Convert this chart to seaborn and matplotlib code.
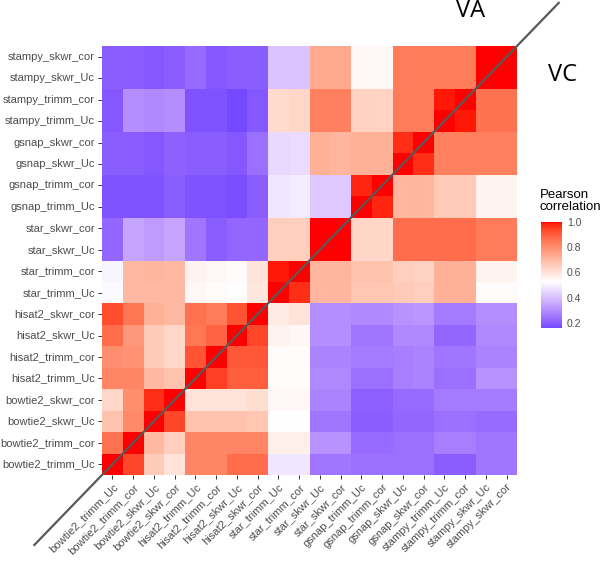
import numpy as np
import pandas as pd
import seaborn as sns
import matplotlib.pyplot as plt
from matplotlib.colors import ListedColormap

# sample names, bottom-to-top on y and left-to-right on x
samples = ["bowtie2_trimm_Uc", "bowtie2_trimm_cor", "bowtie2_skwr_Uc", "bowtie2_skwr_cor",
           "hisat2_trimm_Uc", "hisat2_trimm_cor", "hisat2_skwr_Uc", "hisat2_skwr_cor",
           "star_trimm_Uc", "star_trimm_cor", "star_skwr_Uc", "star_skwr_cor",
           "gsnap_trimm_Uc", "gsnap_trimm_cor", "gsnap_skwr_Uc", "gsnap_skwr_cor",
           "stampy_trimm_Uc", "stampy_trimm_cor", "stampy_skwr_Uc", "stampy_skwr_cor"]

# pearson correlation, rows listed top (stampy_skwr_cor) to bottom (bowtie2_trimm_Uc)
corr_rows = [
    [0.20, 0.20, 0.19, 0.20, 0.23, 0.19, 0.20, 0.20, 0.41, 0.41, 0.74, 0.74, 0.55, 0.55, 0.84, 0.84, 0.84, 0.84, 1.00, 1.00],
    [0.20, 0.20, 0.19, 0.20, 0.23, 0.19, 0.20, 0.20, 0.41, 0.41, 0.74, 0.74, 0.55, 0.55, 0.84, 0.84, 0.84, 0.84, 1.00, 1.00],
    [0.19, 0.30, 0.29, 0.30, 0.18, 0.18, 0.16, 0.19, 0.62, 0.63, 0.83, 0.83, 0.64, 0.64, 0.84, 0.84, 0.99, 1.00, 0.86, 0.86],
    [0.19, 0.30, 0.29, 0.30, 0.18, 0.18, 0.16, 0.19, 0.62, 0.63, 0.83, 0.83, 0.64, 0.64, 0.84, 0.84, 1.00, 0.99, 0.86, 0.86],
    [0.20, 0.20, 0.19, 0.21, 0.20, 0.20, 0.19, 0.24, 0.45, 0.46, 0.72, 0.71, 0.72, 0.72, 0.97, 1.00, 0.83, 0.83, 0.83, 0.83],
    [0.20, 0.20, 0.19, 0.21, 0.20, 0.20, 0.19, 0.24, 0.45, 0.46, 0.72, 0.71, 0.72, 0.72, 1.00, 0.97, 0.83, 0.83, 0.83, 0.83],
    [0.18, 0.18, 0.18, 0.20, 0.18, 0.18, 0.17, 0.20, 0.48, 0.49, 0.42, 0.42, 0.98, 1.00, 0.71, 0.71, 0.66, 0.66, 0.56, 0.56],
    [0.18, 0.18, 0.18, 0.20, 0.18, 0.18, 0.17, 0.20, 0.48, 0.49, 0.42, 0.42, 1.00, 0.98, 0.71, 0.71, 0.66, 0.66, 0.56, 0.56],
    [0.22, 0.35, 0.33, 0.35, 0.25, 0.20, 0.22, 0.22, 0.65, 0.65, 1.00, 1.00, 0.63, 0.63, 0.87, 0.87, 0.87, 0.87, 0.84, 0.84],
    [0.22, 0.35, 0.33, 0.35, 0.25, 0.20, 0.22, 0.22, 0.65, 0.65, 1.00, 1.00, 0.63, 0.63, 0.87, 0.87, 0.87, 0.87, 0.84, 0.84],
    [0.51, 0.70, 0.71, 0.70, 0.56, 0.55, 0.54, 0.60, 0.99, 1.00, 0.71, 0.71, 0.68, 0.68, 0.65, 0.64, 0.72, 0.72, 0.56, 0.56],
    [0.52, 0.70, 0.70, 0.70, 0.55, 0.54, 0.53, 0.59, 1.00, 0.97, 0.71, 0.71, 0.67, 0.67, 0.66, 0.65, 0.72, 0.72, 0.54, 0.54],
    [0.93, 0.85, 0.72, 0.70, 0.86, 0.84, 0.92, 1.00, 0.58, 0.60, 0.30, 0.30, 0.29, 0.29, 0.31, 0.32, 0.26, 0.26, 0.30, 0.30],
    [0.87, 0.78, 0.66, 0.63, 0.85, 0.89, 1.00, 0.94, 0.56, 0.55, 0.30, 0.30, 0.25, 0.25, 0.29, 0.29, 0.22, 0.22, 0.29, 0.29],
    [0.80, 0.79, 0.66, 0.63, 0.92, 1.00, 0.91, 0.91, 0.54, 0.54, 0.28, 0.28, 0.26, 0.26, 0.27, 0.28, 0.25, 0.25, 0.28, 0.28],
    [0.82, 0.82, 0.70, 0.68, 1.00, 0.95, 0.90, 0.90, 0.54, 0.54, 0.29, 0.29, 0.24, 0.24, 0.27, 0.28, 0.24, 0.24, 0.31, 0.31],
    [0.63, 0.80, 0.97, 1.00, 0.60, 0.60, 0.60, 0.61, 0.55, 0.55, 0.28, 0.28, 0.21, 0.21, 0.23, 0.23, 0.26, 0.26, 0.26, 0.26],
    [0.68, 0.81, 1.00, 0.94, 0.68, 0.68, 0.68, 0.67, 0.53, 0.53, 0.25, 0.25, 0.20, 0.20, 0.22, 0.22, 0.24, 0.24, 0.23, 0.23],
    [0.86, 1.00, 0.70, 0.65, 0.82, 0.82, 0.82, 0.82, 0.57, 0.57, 0.31, 0.31, 0.23, 0.23, 0.24, 0.24, 0.27, 0.27, 0.25, 0.25],
    [1.00, 0.94, 0.66, 0.60, 0.82, 0.82, 0.87, 0.87, 0.48, 0.48, 0.25, 0.25, 0.24, 0.24, 0.24, 0.24, 0.20, 0.20, 0.25, 0.25],
]
cbar_ticks = [0.2, 0.4, 0.6, 0.8, 1.0]


# --- ggplot-like gradient2 (blue / white / red, interpolated in Lab) ---
WHITE_XYZ = np.array([0.95047, 1.0, 1.08883])
M_RGB2XYZ = np.array([[0.4124, 0.3576, 0.1805],
                      [0.2126, 0.7152, 0.0722],
                      [0.0193, 0.1192, 0.9505]])


def rgb_to_lab(rgb):
    rgb = np.asarray(rgb, float)
    lin = np.where(rgb <= 0.04045, rgb / 12.92, ((rgb + 0.055) / 1.055) ** 2.4)
    xyz = M_RGB2XYZ @ lin / WHITE_XYZ
    d = 6 / 29
    f = np.where(xyz > d ** 3, np.cbrt(xyz), xyz / (3 * d * d) + 4 / 29)
    return np.array([116 * f[1] - 16, 500 * (f[0] - f[1]), 200 * (f[1] - f[2])])


def lab_to_rgb(lab):
    L, a, b = lab
    fy = (L + 16) / 116
    f = np.array([fy + a / 500, fy, fy - b / 200])
    d = 6 / 29
    xyz = np.where(f > d, f ** 3, 3 * d * d * (f - 4 / 29)) * WHITE_XYZ
    lin = np.linalg.solve(M_RGB2XYZ, xyz)
    lin = np.clip(lin, 0, 1)
    rgb = np.where(lin <= 0.0031308, 12.92 * lin, 1.055 * lin ** (1 / 2.4) - 0.055)
    return np.clip(rgb, 0, 1)


low_lab = rgb_to_lab([0, 0, 1])
mid_lab = rgb_to_lab([1, 1, 1])
high_lab = rgb_to_lab([1, 0, 0])

vals = np.array(corr_rows)
vmin, vmax = vals.min(), vals.max()
midpoint = 0.53
span = max(vmax - midpoint, midpoint - vmin)

colors = []
for v in np.linspace(vmin, vmax, 256):
    p = (v - midpoint) / span / 2 + 0.5
    if p < 0.5:
        t = p / 0.5
        lab = low_lab + (mid_lab - low_lab) * t
    else:
        t = (p - 0.5) / 0.5
        lab = mid_lab + (high_lab - mid_lab) * t
    colors.append(lab_to_rgb(lab))
cmap = ListedColormap(colors)

# --- plot ---
sns.set_style("white")
plt.rcParams['font.family'] = ['Liberation Sans', 'DejaVu Sans']

df = pd.DataFrame(corr_rows, index=samples[::-1], columns=samples)

fig = plt.figure(figsize=(6.05, 5.65), dpi=100)
ax = fig.add_axes([102 / 605, 1 - 475 / 565, 415 / 605, 429 / 565])
cax = fig.add_axes([541 / 605, 1 - 328 / 565, 21 / 605, 106 / 565])

sns.heatmap(df, ax=ax, cmap=cmap, vmin=vmin, vmax=vmax, cbar_ax=cax,
            xticklabels=samples, yticklabels=samples[::-1], linewidths=0)

ax.tick_params(axis='both', bottom=True, left=True, length=2.75, width=0.7,
               color='#333333', pad=2.2, labelsize=8, labelcolor='#4D4D4D')
for lab in ax.get_yticklabels():
    lab.set_rotation(0)
for lab in ax.get_xticklabels():
    lab.set_rotation(45)
    lab.set_ha('right')
    lab.set_va('top')
    lab.set_rotation_mode('anchor')
ax.set_xlabel('')
ax.set_ylabel('')

# diagonal separating the two triangles (VA / VC)
n = len(samples)
ax.plot([-3.3, n + 2.05], [n + 3.3, -2.05], color='#595959', lw=1.6,
        clip_on=False, zorder=5, solid_capstyle='butt')

# colorbar styling
cbar = ax.collections[0].colorbar
cbar.set_ticks(cbar_ticks)
cbar.set_ticklabels([f'{t:.1f}' for t in cbar_ticks])
cbar.outline.set_visible(False)
cax.tick_params(axis='y', direction='in', color='white', length=4, width=0.8,
                left=True, right=True, labelleft=False, labelright=True,
                pad=3.5, labelsize=7.5, labelcolor='#4D4D4D')
fig.text(540 / 605, 1 - 189 / 565, 'Pearson\ncorrelation', ha='left', va='top',
         fontsize=9.5, color='black', linespacing=1.05)

fig.text(471 / 605, 1 - 11 / 565, 'VA', ha='center', va='center',
         fontsize=17, family='Open Sans', color='black')
fig.text(562 / 605, 1 - 75 / 565, 'VC', ha='center', va='center',
         fontsize=17, family='Open Sans', color='black')

fig.savefig('out.png', dpi=100)
